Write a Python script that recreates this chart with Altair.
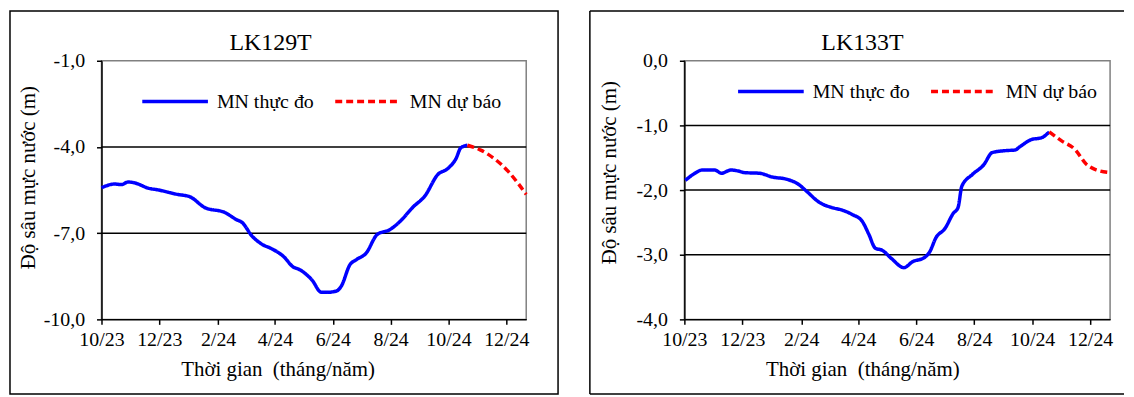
import altair as alt
import pandas as pd

FONT = "'Liberation Serif', 'Times New Roman', Tinos, 'DejaVu Serif', serif"
SERIES = ["MN thực đo", "MN dự báo"]
COLORS = ["#0000FF", "#FF0000"]
X_TITLE = "Thời gian\u00a0 (tháng/năm)"
Y_TITLE = "Độ sâu mực nước (m)"

# ---- LK129T ----
lk129_obs_dates = ["2023-10-01", "2023-10-15", "2023-10-22", "2023-10-29", "2023-11-05",
                   "2023-11-20", "2023-11-29", "2023-12-20", "2024-01-02", "2024-01-18",
                   "2024-02-08", "2024-02-21", "2024-02-26", "2024-03-08", "2024-03-18",
                   "2024-03-29", "2024-04-10", "2024-04-20", "2024-04-27", "2024-05-10",
                   "2024-05-20", "2024-05-26", "2024-06-05", "2024-06-10", "2024-06-19",
                   "2024-06-26", "2024-07-06", "2024-07-18", "2024-07-31", "2024-08-10",
                   "2024-08-25", "2024-09-06", "2024-09-20", "2024-09-30", "2024-10-09",
                   "2024-10-14", "2024-10-21"]
lk129_obs_depth = [-5.42, -5.29, -5.31, -5.22, -5.25, -5.44, -5.49, -5.65, -5.73, -6.11,
                   -6.28, -6.54, -6.62, -7.11, -7.38, -7.55, -7.81, -8.17, -8.27, -8.63,
                   -9.06, -9.06, -9.01, -8.84, -8.10, -7.92, -7.70, -7.04, -6.88, -6.62,
                   -6.08, -5.71, -4.95, -4.76, -4.40, -4.03, -3.94]
lk129_fc_dates = ["2024-10-21", "2024-11-04", "2024-11-20", "2024-12-03", "2024-12-13", "2024-12-22"]
lk129_fc_depth = [-3.94, -4.11, -4.45, -4.85, -5.25, -5.65]

# ---- LK133T ----
lk133_obs_dates = ["2023-10-02", "2023-10-10", "2023-10-20", "2023-11-02", "2023-11-09",
                   "2023-11-19", "2023-11-28", "2023-12-03", "2023-12-19", "2024-01-02",
                   "2024-01-16", "2024-01-29", "2024-02-06", "2024-02-20", "2024-03-04",
                   "2024-03-15", "2024-03-26", "2024-04-05", "2024-04-12", "2024-04-19",
                   "2024-04-26", "2024-05-06", "2024-05-19", "2024-05-28", "2024-06-10",
                   "2024-06-15", "2024-06-22", "2024-07-01", "2024-07-10", "2024-07-15",
                   "2024-07-19", "2024-07-30", "2024-08-11", "2024-08-20", "2024-09-03",
                   "2024-09-13", "2024-09-18", "2024-09-30", "2024-10-11", "2024-10-19"]
lk133_obs_depth = [-1.85, -1.76, -1.69, -1.69, -1.74, -1.69, -1.71, -1.73, -1.74, -1.80,
                   -1.83, -1.91, -2.01, -2.19, -2.27, -2.31, -2.38, -2.48, -2.68, -2.90,
                   -2.93, -3.06, -3.20, -3.11, -3.04, -2.96, -2.73, -2.60, -2.36, -2.27,
                   -1.94, -1.76, -1.61, -1.42, -1.39, -1.38, -1.33, -1.22, -1.19, -1.10]
lk133_fc_dates = ["2024-10-19", "2024-11-01", "2024-11-15", "2024-11-27", "2024-12-06", "2024-12-22"]
lk133_fc_depth = [-1.10, -1.24, -1.37, -1.60, -1.68, -1.73]

X_TICK_MONTHS = [(2023, 10), (2023, 12), (2024, 2), (2024, 4), (2024, 6), (2024, 8), (2024, 10), (2024, 12)]
X_START = (2023, 10, 1)
X_END = (2024, 12, 22)

Y_LABEL_EXPR = "(datum.value < 0 ? '-' : '') + replace(format(abs(datum.value), '.1f'), '.', ',')"


def dt(y, m, d=1):
    return alt.DateTime(year=y, month=m, date=d, utc=True)


def legend(xy):
    return alt.Legend(
        title=None, orient="none", legendX=xy[0], legendY=xy[1],
        direction="horizontal", symbolType="stroke", symbolSize=4356,
        symbolStrokeWidth=3.5, labelFont=FONT, labelFontSize=20,
        labelColor="black", labelOffset=7, columnPadding=14,
    )


def panel(name, obs_d, obs_v, fc_d, fc_v, ydomain, yticks, ygrid, W, H,
          box, open_right, title_xy, legend_xy, ytitle_xy, xtitle_xy):
    df = pd.DataFrame({
        "date": obs_d + fc_d,
        "depth": obs_v + fc_v,
        "series": [SERIES[0]] * len(obs_d) + [SERIES[1]] * len(fc_d),
    })
    x_enc = alt.X(
        "date:T",
        scale=alt.Scale(type="utc", domain=[dt(*X_START), dt(*X_END)], nice=False),
        axis=alt.Axis(
            values=[dt(y, m) for y, m in X_TICK_MONTHS],
            labelExpr="utcFormat(datum.value, '%-m/%y')",
            title=X_TITLE, tickSize=5, labelPadding=5,
            titleX=xtitle_xy[0], titleY=xtitle_xy[1], titleBaseline="middle",
            titleAlign="center", labelFlush=False, labelOverlap=False,
        ),
    )
    y_enc = alt.Y(
        "depth:Q",
        scale=alt.Scale(domain=ydomain, nice=False, zero=False),
        axis=alt.Axis(
            values=yticks, labelExpr=Y_LABEL_EXPR, title=Y_TITLE, tickSize=5,
            labelPadding=12, titleX=ytitle_xy[0], titleY=ytitle_xy[1],
            titleBaseline="middle", titleAlign="center", titleAngle=-90,
            labelFlush=False, labelOverlap=False,
        ),
    )
    grid = alt.Chart(pd.DataFrame({"depth": ygrid})).mark_rule(
        color="black", strokeWidth=1.5
    ).encode(y=y_enc)

    line = alt.Chart(df).mark_line(interpolate="monotone", strokeWidth=3.5).encode(
        x=x_enc,
        y=y_enc,
        color=alt.Color("series:N", scale=alt.Scale(domain=SERIES, range=COLORS),
                        legend=legend(legend_xy)),
        strokeDash=alt.StrokeDash("series:N",
                                  scale=alt.Scale(domain=SERIES, range=[[1, 0], [7, 4]]),
                                  legend=legend(legend_xy)),
    )

    one = pd.DataFrame({"k": [0]})
    bx0, bx1, by0, by1 = box
    if open_right:
        frame = (
            alt.Chart(one).mark_rule(color="black", strokeWidth=1.5).encode(
                x=alt.value(bx0), x2=alt.value(bx1), y=alt.value(by0))
            + alt.Chart(one).mark_rule(color="black", strokeWidth=1.5).encode(
                x=alt.value(bx0), x2=alt.value(bx1), y=alt.value(by1))
            + alt.Chart(one).mark_rule(color="black", strokeWidth=1.5).encode(
                x=alt.value(bx0), y=alt.value(by0), y2=alt.value(by1))
        )
    else:
        frame = alt.Chart(one).mark_rect(
            fillOpacity=0, stroke="black", strokeWidth=1.5
        ).encode(x=alt.value(bx0), x2=alt.value(bx1), y=alt.value(by0), y2=alt.value(by1))

    title = alt.Chart(one).mark_text(
        text=name, font=FONT, fontSize=24, color="black", align="center", baseline="middle"
    ).encode(x=alt.value(title_xy[0]), y=alt.value(title_xy[1]))

    return alt.layer(frame, grid, line, title).properties(width=W, height=H)


left = panel("LK129T", lk129_obs_dates, lk129_obs_depth, lk129_fc_dates, lk129_fc_depth,
             [-10, -1], [-1, -4, -7, -10], [-4, -7], 427, 260,
             (-92, 459, -50, 335), False, (170, -18), (39, 6), (-73, 117), (177, 50))
right = panel("LK133T", lk133_obs_dates, lk133_obs_depth, lk133_fc_dates, lk133_fc_depth,
              [-4, 0], [0, -1, -2, -3, -4], [-1, -2, -3], 428, 260,
              (-95, 442, -50, 335), True, (179, -18), (52, -4), (-75, 112), (179, 50))

chart = alt.hconcat(left, right, spacing=28).resolve_scale(
    x="independent", y="independent", color="independent", strokeDash="independent"
).resolve_legend(color="independent", strokeDash="independent").properties(
    padding=0, background="white"
).configure_view(
    stroke="#808080", strokeWidth=1.5
).configure_axis(
    labelFont=FONT, labelFontSize=20, labelColor="black",
    titleFont=FONT, titleFontSize=21, titleFontWeight="normal", titleColor="black",
    domainColor="black", domainWidth=1.5, tickColor="black", tickWidth=1.5, grid=False,
).configure_legend(
    labelFont=FONT, labelFontSize=20, labelColor="black",
)

chart.save("out.html", embed_options={"renderer": "svg", "actions": False})
